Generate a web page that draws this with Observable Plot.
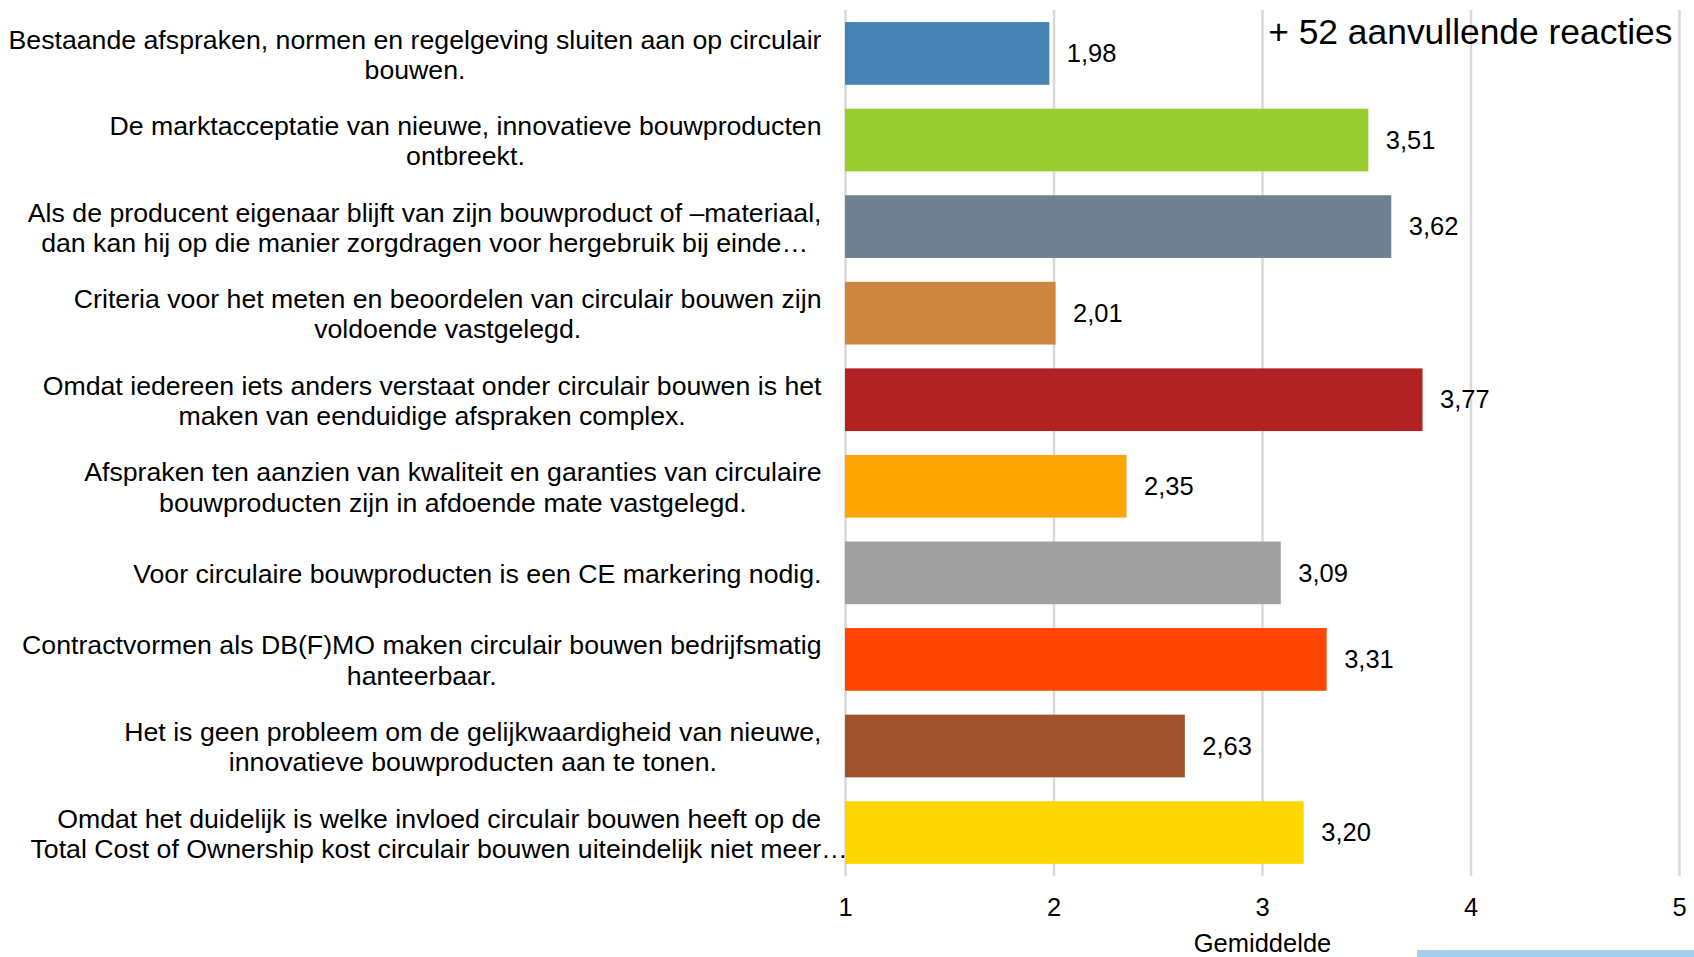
<!DOCTYPE html>
<html>
<head>
<meta charset="utf-8">
<script src="https://cdn.jsdelivr.net/npm/d3@7"></script>
<script src="https://cdn.jsdelivr.net/npm/@observablehq/plot@0.6"></script>
<style>
  html, body { margin: 0; padding: 0; background: #fff; }
  #wrap { position: relative; width: 1694px; height: 957px; overflow: hidden; }
  #strip { position: absolute; left: 1417px; top: 950px; width: 277px; height: 7px; background: #a6ceee; }
</style>
</head>
<body>
<div id="wrap"><div id="chart"></div><div id="strip"></div></div>
<script>
const categories = [
  "Bestaande afspraken, normen en regelgeving sluiten aan op circulair\nbouwen.",
  "De marktacceptatie van nieuwe, innovatieve bouwproducten\nontbreekt.",
  "Als de producent eigenaar blijft van zijn bouwproduct of –materiaal,\ndan kan hij op die manier zorgdragen voor hergebruik bij einde…",
  "Criteria voor het meten en beoordelen van circulair bouwen zijn\nvoldoende vastgelegd.",
  "Omdat iedereen iets anders verstaat onder circulair bouwen is het\nmaken van eenduidige afspraken complex.",
  "Afspraken ten aanzien van kwaliteit en garanties van circulaire\nbouwproducten zijn in afdoende mate vastgelegd.",
  "Voor circulaire bouwproducten is een CE markering nodig.",
  "Contractvormen als DB(F)MO maken circulair bouwen bedrijfsmatig\nhanteerbaar.",
  "Het is geen probleem om de gelijkwaardigheid van nieuwe,\ninnovatieve bouwproducten aan te tonen.",
  "Omdat het duidelijk is welke invloed circulair bouwen heeft op de\nTotal Cost of Ownership kost circulair bouwen uiteindelijk niet meer…"
];
const values = [1.98, 3.51, 3.62, 2.01, 3.77, 2.35, 3.09, 3.31, 2.63, 3.20];
const colors = ["#4682b4", "#9acd32", "#708090", "#cd853f", "#b22222", "#ffa500", "#a0a0a0", "#ff4500", "#a0522d", "#ffd700"];
const xTicks = [1, 2, 3, 4, 5];
const xLabel = "Gemiddelde";
const note = "+ 52 aanvullende reacties";

const FONT = '"Liberation Sans", Arial, sans-serif';
const labelSize = 26.7;
const marginLeft = 845;
const labelRight = 821;
const labelMaxWidth = 814;

const data = categories.map((c, i) => ({category: c, value: values[i], color: colors[i]}));

// measure label widths: lines are centred inside a right-aligned block
const ctx = document.createElement("canvas").getContext("2d");
ctx.font = `${labelSize}px "Liberation Sans"`;
const labelMarks = categories.map((c) => {
  const w = d3.max(c.split("\n"), (l) => ctx.measureText(l).width);
  let center = labelRight - w / 2;
  if (w > labelMaxWidth) center = 30 + w / 2; // overflowing label spills right
  return Plot.text([c], {
    y: (d) => d, text: (d) => d, frameAnchor: "left", textAnchor: "middle",
    dx: center - marginLeft, lineHeight: 1.13, fontSize: labelSize, fill: "#000"
  });
});

const fmt = (v) => v.toFixed(2).replace(".", ",");

const chart = Plot.plot({
  width: 1694,
  height: 957,
  marginLeft,
  marginRight: 15,
  marginTop: 10,
  marginBottom: 81,
  style: {fontFamily: FONT, background: "#fff"},
  x: {domain: [1, 5], ticks: xTicks, label: null},
  y: {domain: categories, paddingInner: 0.276, paddingOuter: 0.14, round: false, axis: null},
  color: {type: "identity"},
  marks: [
    Plot.gridX(xTicks, {stroke: "#d9d9d9", strokeOpacity: 1, strokeWidth: 2.5}),
    Plot.barX(data, {y: "category", x1: xTicks[0], x2: "value", fill: "color"}),
    Plot.text(data, {y: "category", x: "value", text: (d) => fmt(d.value), dx: 17, textAnchor: "start", fontSize: 25.5, fill: "#000"}),
    ...labelMarks,
    Plot.axisX(xTicks, {tickSize: 0, tickPadding: 21, fontSize: 25.5, fill: "#000", label: null, tickFormat: (d) => d}),
    Plot.text([xLabel], {frameAnchor: "bottom", dy: 67, lineAnchor: "middle", fontSize: 25.5, fill: "#000", text: (d) => d}),
    Plot.text([note], {frameAnchor: "top-right", dx: -7, dy: 22, textAnchor: "end", lineAnchor: "middle", fontSize: 35.4, fill: "#000", text: (d) => d})
  ]
});
document.getElementById("chart").appendChild(chart);
</script>
</body>
</html>
